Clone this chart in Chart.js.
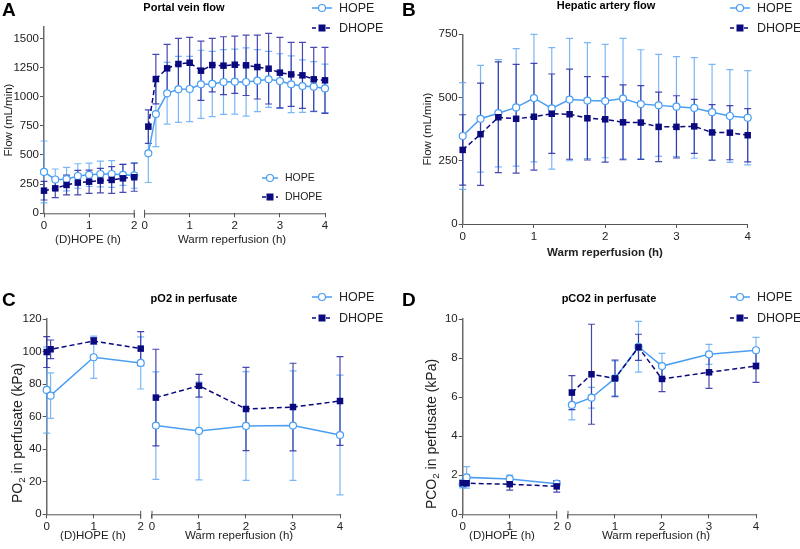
<!DOCTYPE html>
<html>
<head>
<meta charset="utf-8">
<script src="https://cdn.jsdelivr.net/npm/chart.js@4.4.0/dist/chart.umd.min.js"></script>
<style>
  html, body { margin: 0; padding: 0; background: #fff; }
  #wrap { position: relative; width: 800px; height: 549px; overflow: hidden; }
  .panel { position: absolute; }
</style>
</head>
<body>
<div id="wrap">
  <div class="panel" style="left:0;top:0;width:400px;height:275px"><canvas id="chartA"></canvas></div>
  <div class="panel" style="left:400px;top:0;width:400px;height:275px"><canvas id="chartB"></canvas></div>
  <div class="panel" style="left:0;top:275px;width:400px;height:274px"><canvas id="chartC"></canvas></div>
  <div class="panel" style="left:400px;top:275px;width:400px;height:274px"><canvas id="chartD"></canvas></div>
</div>
<script>
// A - portal vein flow (mean and SD)
const pvPreTime = [0, 0.25, 0.5, 0.75, 1, 1.25, 1.5, 1.75, 2];
const pvPreHope = [355, 290, 293, 320, 330, 337, 337, 330, 325];
const pvPreHopeSd = [265, 90, 100, 105, 100, 110, 115, 90, 110];
const pvPreDhope = [194, 214, 243, 263, 271, 280, 286, 300, 309];
const pvPreDhopeSd = [80, 80, 85, 105, 100, 105, 115, 120, 120];
const pvRepTime = [0.083, 0.25, 0.5, 0.75, 1, 1.25, 1.5, 1.75, 2, 2.25, 2.5, 2.75, 3, 3.25, 3.5, 3.75, 4];
const pvRepHope = [514, 851, 1029, 1063, 1066, 1106, 1109, 1126, 1129, 1126, 1137, 1149, 1134, 1106, 1091, 1086, 1071];
const pvRepHopeSd = [250, 280, 265, 283, 280, 292, 280, 277, 278, 292, 266, 240, 234, 243, 225, 215, 208];
const pvRepDhope = [743, 1151, 1243, 1280, 1291, 1223, 1271, 1266, 1274, 1269, 1254, 1240, 1206, 1191, 1183, 1149, 1140];
const pvRepDhopeSd = [143, 212, 206, 220, 217, 254, 229, 248, 246, 259, 274, 303, 302, 275, 283, 274, 283];

// B - hepatic artery flow
const haTime = [0, 0.25, 0.5, 0.75, 1, 1.25, 1.5, 1.75, 2, 2.25, 2.5, 2.75, 3, 3.25, 3.5, 3.75, 4];
const haHope = [348, 416, 438, 461, 498, 457, 492, 488, 486, 496, 474, 469, 464, 459, 442, 427, 420];
const haHopeSd = [211, 211, 212, 232, 252, 240, 242, 229, 224, 238, 215, 202, 198, 199, 189, 183, 186];
const haDhope = [293, 355, 422, 416, 424, 436, 434, 418, 414, 402, 401, 384, 384, 386, 362, 361, 351];
const haDhopeSd = [139, 202, 219, 215, 211, 157, 178, 165, 169, 148, 146, 137, 123, 107, 110, 107, 105];

// C - pO2 in perfusate
const po2PreTime = [0, 0.083, 1, 2];
const po2PreHope = [76.4, 72.9, 96.5, 93.0];
const po2PreHopeSd = [26.5, 14, 13, 16];
const po2PreDhope = [99.7, 101.4, 106.5, 101.8];
const po2PreDhopeSd = [9.5, 5.7, 2, 10.4];
const po2RepTime = [0.083, 1, 2, 3, 4];
const po2RepHope = [54.5, 51.2, 54.3, 54.5, 48.7];
const po2RepHopeSd = [33, 30, 33.4, 33.6, 36.8];
const po2RepDhope = [71.7, 79.0, 64.7, 65.9, 69.6];
const po2RepDhopeSd = [29.7, 7, 25.6, 26.9, 27.3];

// D - pCO2 in perfusate
const pco2PreTime = [0, 0.083, 1, 2];
const pco2PreHope = [1.55, 1.89, 1.81, 1.57];
const pco2PreHopeSd = [0.2, 0.55, 0.2, 0.12];
const pco2PreDhope = [1.59, 1.59, 1.54, 1.43];
const pco2PreDhopeSd = [0.15, 0.1, 0.3, 0.29];
const pco2RepTime = [0.083, 0.5, 1, 1.5, 2, 3, 4];
const pco2RepHope = [5.60, 5.97, 6.96, 8.58, 7.59, 8.19, 8.40];
const pco2RepHopeSd = [0.77, 0.53, 0.9, 1.3, 0.65, 0.51, 0.66];
const pco2RepDhope = [6.23, 7.17, 6.96, 8.55, 6.93, 7.27, 7.59];
const pco2RepDhopeSd = [0.87, 2.56, 0.94, 0.67, 0.65, 0.82, 0.83];

// tick labels
const preTicks = [0, 1, 2];
const repTicks = [0, 1, 2, 3, 4];
const pvYTicks = [0, 250, 500, 750, 1000, 1250, 1500];
const haYTicks = [0, 250, 500, 750];
const po2YTicks = [0, 20, 40, 60, 80, 100, 120];
const pco2YTicks = [0, 2, 4, 6, 8, 10];

const FONT = "'Liberation Sans', Arial, Helvetica, sans-serif";
const hopeColor = '#4a9ef2';
const hopeErr = 'rgba(90,165,245,0.8)';
const dhopeColor = '#0a0a7e';
const dhopeErr = 'rgba(40,40,165,0.85)';
const axisColor = '#555';
const textColor = '#222';

Chart.defaults.font.family = FONT;

function pts(times, vals, offset) {
  return times.map((t, i) => ({ x: t + offset, y: vals[i] }));
}

function hopeSet(times, vals, sd, offset) {
  return {
    label: 'HOPE', data: pts(times, vals, offset), errors: sd, errColor: hopeErr,
    borderColor: hopeColor, borderWidth: 1.5, pointStyle: 'circle', pointRadius: 3.5,
    pointBorderWidth: 1.2, pointBackgroundColor: '#fff', pointBorderColor: hopeColor,
    clip: false, order: 2
  };
}

function dhopeSet(times, vals, sd, offset) {
  return {
    label: 'DHOPE', data: pts(times, vals, offset), errors: sd, errColor: dhopeErr,
    borderColor: dhopeColor, borderWidth: 1.5, borderDash: [5, 3], pointStyle: 'rect',
    pointRadius: 4.6, pointBorderWidth: 0, pointBackgroundColor: dhopeColor,
    pointBorderColor: dhopeColor, clip: false, order: 1
  };
}

// vertical SD bars with caps
const errorBars = {
  id: 'errorBars',
  beforeDatasetsDraw(chart) {
    const ctx = chart.ctx, ys = chart.scales.y;
    const metas = chart.getSortedVisibleDatasetMetas().slice().reverse();
    metas.forEach(meta => {
      const ds = chart.data.datasets[meta.index];
      if (!ds.errors) return;
      ctx.save();
      ctx.strokeStyle = ds.errColor;
      ctx.lineWidth = 1.2;
      meta.data.forEach((pt, i) => {
        const v = ds.data[i].y, e = ds.errors[i];
        const yt = ys.getPixelForValue(v + e), yb = ys.getPixelForValue(v - e);
        ctx.beginPath();
        ctx.moveTo(pt.x, yt); ctx.lineTo(pt.x, yb);
        ctx.moveTo(pt.x - 3.5, yt); ctx.lineTo(pt.x + 3.5, yt);
        ctx.moveTo(pt.x - 3.5, yb); ctx.lineTo(pt.x + 3.5, yb);
        ctx.stroke();
      });
      ctx.restore();
    });
  }
};

function drawLegend(ctx, l) {
  ['HOPE', 'DHOPE'].forEach((name, i) => {
    const y = l.ys[i], dh = name === 'DHOPE';
    ctx.save();
    ctx.lineWidth = 1.5;
    ctx.strokeStyle = dh ? dhopeColor : hopeColor;
    ctx.setLineDash(dh ? [4, 3] : []);
    ctx.beginPath();
    ctx.moveTo(l.x - l.half, y); ctx.lineTo(l.x + l.half, y);
    ctx.stroke();
    ctx.setLineDash([]);
    if (dh) {
      ctx.fillStyle = dhopeColor;
      ctx.fillRect(l.x - 3.5, y - 3.5, 7, 7);
    } else {
      ctx.fillStyle = '#fff';
      ctx.lineWidth = 1.2;
      ctx.beginPath(); ctx.arc(l.x, y, 3.5, 0, Math.PI * 2); ctx.fill(); ctx.stroke();
    }
    ctx.fillStyle = textColor;
    ctx.font = l.size + 'px ' + FONT;
    ctx.textAlign = 'left'; ctx.textBaseline = 'middle';
    ctx.fillText(name, l.tx, y + 0.5);
    ctx.restore();
  });
}

function decor(cfg) {
  return {
    id: 'decor',
    afterDraw(chart) {
      const ctx = chart.ctx, ca = chart.chartArea, xs = chart.scales.x;
      ctx.save();
      // broken x axis
      if (cfg.offset) {
        const y0 = ca.bottom + 0.5;
        const p2 = xs.getPixelForValue(2), p0 = xs.getPixelForValue(cfg.offset);
        ctx.strokeStyle = axisColor; ctx.lineWidth = 1;
        ctx.beginPath();
        ctx.moveTo(ca.left, y0); ctx.lineTo(p2, y0);
        ctx.moveTo(p0, y0); ctx.lineTo(ca.right, y0);
        ctx.moveTo(p2, y0 - 4); ctx.lineTo(p2, y0 + 4);
        ctx.moveTo(p0, y0 - 4); ctx.lineTo(p0, y0 + 4);
        ctx.stroke();
      }
      ctx.fillStyle = '#000';
      ctx.font = 'bold 19px ' + FONT;
      ctx.textAlign = 'left'; ctx.textBaseline = 'alphabetic';
      ctx.fillText(cfg.letter, cfg.letterPos[0], cfg.letterPos[1]);
      ctx.font = 'bold 11px ' + FONT;
      ctx.textAlign = 'center'; ctx.textBaseline = 'middle';
      ctx.fillText(cfg.title, cfg.titlePos[0], cfg.titlePos[1]);
      ctx.fillStyle = textColor;
      cfg.xTitles.forEach(t => {
        ctx.font = (t.bold ? 'bold ' : '') + '11.5px ' + FONT;
        ctx.fillText(t.text, t.x, t.y);
      });
      // rotated y title, parts may be subscript
      const yt = cfg.yTitle, fs = yt.size;
      let w = 0;
      yt.parts.forEach(p => {
        ctx.font = (p.sub ? fs * 0.7 : fs) + 'px ' + FONT;
        p.w = ctx.measureText(p.t).width; w += p.w;
      });
      ctx.translate(yt.x, yt.y);
      ctx.rotate(-Math.PI / 2);
      ctx.textAlign = 'left'; ctx.textBaseline = 'middle';
      let cx = -w / 2;
      yt.parts.forEach(p => {
        ctx.font = (p.sub ? fs * 0.7 : fs) + 'px ' + FONT;
        ctx.fillText(p.t, cx, p.sub ? fs * 0.3 : 0);
        cx += p.w;
      });
      ctx.restore();
      cfg.legends.forEach(l => drawLegend(ctx, l));
    }
  };
}

function makePanel(id, cfg, datasets) {
  const offset = cfg.offset || 0;
  const xTickVals = offset ? preTicks.concat(repTicks.map(t => t + offset)) : repTicks;
  new Chart(document.getElementById(id), {
    type: 'line',
    data: { datasets: datasets },
    options: {
      responsive: true,
      maintainAspectRatio: false,
      animation: false,
      events: [],
      layout: { padding: cfg.padding },
      plugins: { legend: { display: false }, tooltip: { enabled: false } },
      scales: {
        x: {
          type: 'linear', min: 0, max: cfg.xMax,
          afterBuildTicks: s => { s.ticks = xTickVals.map(v => ({ value: v })); },
          afterFit: s => { s.height = 30; },
          ticks: {
            autoSkip: false, maxRotation: 0, padding: 2, color: textColor,
            font: { size: 11.5 },
            callback: v => String(Math.round(offset && v > 2.01 ? v - offset : v))
          },
          grid: { drawOnChartArea: false, tickLength: 4, color: axisColor, tickColor: axisColor },
          border: { display: !offset, color: axisColor, width: 1 }
        },
        y: {
          min: 0, max: cfg.yMax,
          afterBuildTicks: s => { s.ticks = cfg.yTicks.map(v => ({ value: v })); },
          afterFit: s => { s.width = cfg.yWidth; },
          ticks: { padding: 1, color: textColor, font: { size: 11.5 }, callback: v => String(v) },
          grid: { drawOnChartArea: false, tickLength: 4, color: axisColor, tickColor: axisColor },
          border: { color: '#6a6a6a', width: 1.5 }
        }
      }
    },
    plugins: [errorBars, decor(cfg)]
  });
}

makePanel('chartA', {
  padding: { left: 0, right: 75, top: 26.7, bottom: 31.7 }, yWidth: 44,
  offset: 2.23, xMax: 6.23, yMax: 1600, yTicks: pvYTicks,
  letter: 'A', letterPos: [2, 16], title: 'Portal vein flow', titlePos: [184, 8],
  legends: [
    { x: 322, half: 10, tx: 339, ys: [8, 28], size: 12.5 },
    { x: 270, half: 8, tx: 285, ys: [178, 197], size: 10.5 }
  ],
  xTitles: [
    { text: '(D)HOPE (h)', x: 88, y: 240 },
    { text: 'Warm reperfusion (h)', x: 232, y: 240 }
  ],
  yTitle: { parts: [{ t: 'Flow (mL/min)' }], x: 9, y: 120, size: 11.5 }
}, [
  dhopeSet(pvPreTime, pvPreDhope, pvPreDhopeSd, 0),
  dhopeSet(pvRepTime, pvRepDhope, pvRepDhopeSd, 2.23),
  hopeSet(pvPreTime, pvPreHope, pvPreHopeSd, 0),
  hopeSet(pvRepTime, pvRepHope, pvRepHopeSd, 2.23)
]);

makePanel('chartB', {
  padding: { left: 0, right: 52.3, top: 34.3, bottom: 21 }, yWidth: 62.7,
  offset: 0, xMax: 4, yMax: 750, yTicks: haYTicks,
  letter: 'B', letterPos: [2, 16], title: 'Hepatic artery flow', titlePos: [206, 6],
  legends: [{ x: 340, half: 10, tx: 357, ys: [8, 28], size: 12.5 }],
  xTitles: [{ text: 'Warm reperfusion (h)', x: 205, y: 253, bold: true }],
  yTitle: { parts: [{ t: 'Flow (mL/min)' }], x: 28, y: 129, size: 11.5 }
}, [
  dhopeSet(haTime, haDhope, haDhopeSd, 0),
  hopeSet(haTime, haHope, haHopeSd, 0)
]);

makePanel('chartC', {
  padding: { left: 0, right: 60, top: 44, bottom: 4.7 }, yWidth: 46.7,
  offset: 2.24, xMax: 6.24, yMax: 120, yTicks: po2YTicks,
  letter: 'C', letterPos: [2, 31], title: 'pO2 in perfusate', titlePos: [194, 24],
  legends: [{ x: 322, half: 10, tx: 339, ys: [22, 43], size: 12.5 }],
  xTitles: [
    { text: '(D)HOPE (h)', x: 93, y: 261 },
    { text: 'Warm reperfusion (h)', x: 239, y: 261 }
  ],
  yTitle: { parts: [{ t: 'PO' }, { t: '2', sub: true }, { t: ' in perfusate (kPa)' }], x: 18, y: 158, size: 14 }
}, [
  dhopeSet(po2PreTime, po2PreDhope, po2PreDhopeSd, 0),
  dhopeSet(po2RepTime, po2RepDhope, po2RepDhopeSd, 2.24),
  hopeSet(po2PreTime, po2PreHope, po2PreHopeSd, 0),
  hopeSet(po2RepTime, po2RepHope, po2RepHopeSd, 2.24)
]);

makePanel('chartD', {
  padding: { left: 0, right: 44, top: 44, bottom: 4.7 }, yWidth: 62.7,
  offset: 2.24, xMax: 6.24, yMax: 10, yTicks: pco2YTicks,
  letter: 'D', letterPos: [2, 31], title: 'pCO2 in perfusate', titlePos: [209, 24],
  legends: [{ x: 340, half: 10, tx: 357, ys: [22, 43], size: 12.5 }],
  xTitles: [
    { text: '(D)HOPE (h)', x: 102, y: 261 },
    { text: 'Warm reperfusion (h)', x: 256, y: 261 }
  ],
  yTitle: { parts: [{ t: 'PCO' }, { t: '2', sub: true }, { t: ' in perfusate (kPa)' }], x: 32, y: 159, size: 14 }
}, [
  dhopeSet(pco2PreTime, pco2PreDhope, pco2PreDhopeSd, 0),
  dhopeSet(pco2RepTime, pco2RepDhope, pco2RepDhopeSd, 2.24),
  hopeSet(pco2PreTime, pco2PreHope, pco2PreHopeSd, 0),
  hopeSet(pco2RepTime, pco2RepHope, pco2RepHopeSd, 2.24)
]);
</script>
</body>
</html>
